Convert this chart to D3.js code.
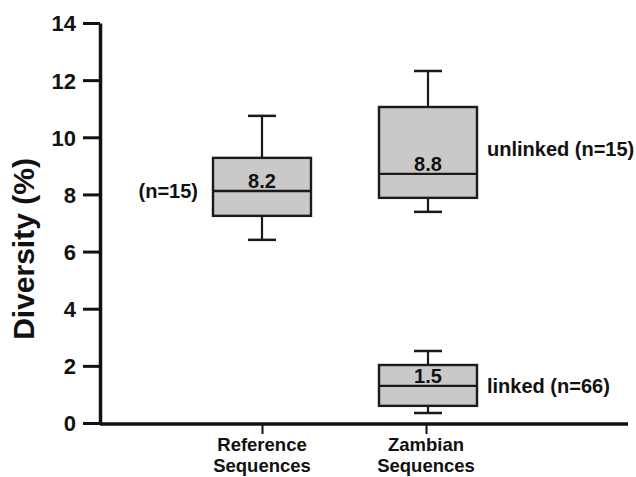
<!DOCTYPE html>
<html>
<head>
<meta charset="utf-8">
<script src="https://cdn.jsdelivr.net/npm/d3@7/dist/d3.min.js"></script>
<style>
  html, body { margin: 0; padding: 0; background: #fff; }
  svg { display: block; }
  text { font-family: "Liberation Sans", Arial, Helvetica, sans-serif; font-weight: bold; fill: #111; }
</style>
</head>
<body>
<script>
// ---- data ----
const categories = ["Reference Sequences", "Zambian Sequences"];
const yTicks = [0, 2, 4, 6, 8, 10, 12, 14];
const boxGroups = ["reference", "unlinked", "linked"];
const boxCategory = ["Reference Sequences", "Zambian Sequences", "Zambian Sequences"];
const whiskerLow = [6.41, 7.39, 0.35];
const boxLow = [7.25, 7.88, 0.60];
const medians = [8.12, 8.72, 1.30];
const boxHigh = [9.28, 11.06, 2.03];
const whiskerHigh = [10.75, 12.32, 2.52];
const medianLabels = ["8.2", "8.8", "1.5"];
const groupLabels = ["(n=15)", "unlinked (n=15)", "linked (n=66)"];
const yLabel = "Diversity (%)";

// ---- layout ----
const W = 636, H = 477;
const axisLeft = 100, axisRight = 628, axisTop = 23, axisBottom = 423;

const svg = d3.select("body").append("svg").attr("width", W).attr("height", H);

const y = d3.scaleLinear().domain([0, 14]).range([axisBottom, axisTop]);
const x = d3.scalePoint().domain(categories).range([axisLeft + 162, axisLeft + 326]);

const boxW = 98, capW = 28;

// y axis
const yAxis = d3.axisLeft(y).tickValues(yTicks).tickSize(17).tickPadding(7).tickSizeOuter(0);
const gy = svg.append("g").attr("transform", `translate(${axisLeft},0)`).call(yAxis);
gy.select(".domain").attr("stroke", "#111").attr("stroke-width", 3.5);
gy.selectAll(".tick line").attr("stroke", "#111").attr("stroke-width", 3);
gy.selectAll(".tick text").style("font-size", "22px").style("font-family", '"Liberation Sans", Arial, sans-serif').style("font-weight", "bold").attr("fill", "#111").attr("dy", "0.36em");

// x axis
const xAxis = d3.axisBottom(x).tickSize(10).tickSizeOuter(0).tickFormat("");
const gx = svg.append("g").attr("transform", `translate(0,${axisBottom + 1})`).call(xAxis);
gx.select(".domain").attr("d", `M${axisLeft},0H${axisRight}`).attr("stroke", "#111").attr("stroke-width", 3.5);
gx.selectAll(".tick line").attr("stroke", "#111").attr("stroke-width", 2);

// category labels (two lines, separate texts)
categories.forEach(c => {
  const words = c.split(" ");
  words.forEach((w, i) => {
    svg.append("text").attr("x", x(c)).attr("y", 451 + i * 20.5)
      .attr("text-anchor", "middle").style("font-size", "18.5px").text(w);
  });
});

// y label
svg.append("text")
  .attr("transform", `translate(34,${(axisTop + axisBottom) / 2 + 26}) rotate(-90)`)
  .attr("text-anchor", "middle")
  .style("font-size", "30px")
  .text(yLabel);

// boxes
boxGroups.forEach((g, i) => {
  const cx = x(boxCategory[i]) + (i === 0 ? 0 : 2);
  const grp = svg.append("g");
  grp.append("line").attr("x1", cx).attr("x2", cx).attr("y1", y(boxHigh[i])).attr("y2", y(whiskerHigh[i]))
    .attr("stroke", "#1a1a1a").attr("stroke-width", 2.2);
  grp.append("line").attr("x1", cx).attr("x2", cx).attr("y1", y(boxLow[i])).attr("y2", y(whiskerLow[i]))
    .attr("stroke", "#1a1a1a").attr("stroke-width", 2.2);
  grp.append("line").attr("x1", cx - capW / 2).attr("x2", cx + capW / 2).attr("y1", y(whiskerHigh[i])).attr("y2", y(whiskerHigh[i]))
    .attr("stroke", "#1a1a1a").attr("stroke-width", 2.5);
  grp.append("line").attr("x1", cx - capW / 2).attr("x2", cx + capW / 2).attr("y1", y(whiskerLow[i])).attr("y2", y(whiskerLow[i]))
    .attr("stroke", "#1a1a1a").attr("stroke-width", 2.5);
  grp.append("rect").attr("x", cx - boxW / 2).attr("width", boxW)
    .attr("y", y(boxHigh[i])).attr("height", y(boxLow[i]) - y(boxHigh[i]))
    .attr("fill", "#c9c9c9").attr("stroke", "#1a1a1a").attr("stroke-width", 2.4);
  grp.append("line").attr("x1", cx - boxW / 2).attr("x2", cx + boxW / 2).attr("y1", y(medians[i])).attr("y2", y(medians[i]))
    .attr("stroke", "#1a1a1a").attr("stroke-width", 2.4);
  grp.append("text").attr("x", cx).attr("y", y(medians[i]) - 3)
    .attr("text-anchor", "middle").style("font-size", "20px").text(medianLabels[i]);
  if (i === 0) {
    svg.append("text").attr("x", cx - boxW / 2 - 15).attr("y", y(medians[i]) + 7)
      .attr("text-anchor", "end").style("font-size", "20px").text(groupLabels[i]);
  } else {
    svg.append("text").attr("x", cx + boxW / 2 + 10).attr("y", i === 1 ? 156 : 393)
      .attr("text-anchor", "start").style("font-size", "20px").text(groupLabels[i]);
  }
});
</script>
</body>
</html>
